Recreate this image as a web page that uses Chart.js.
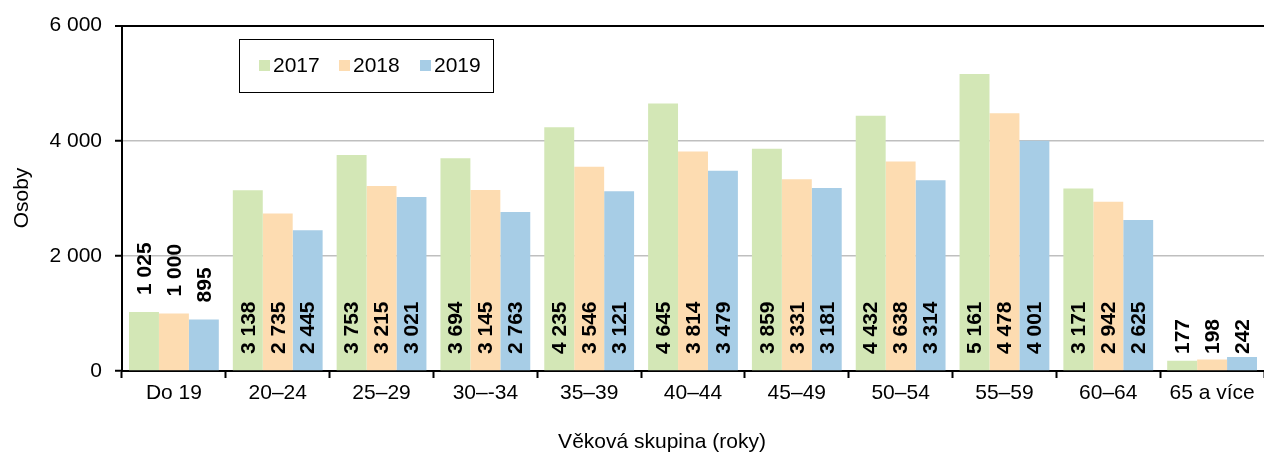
<!DOCTYPE html>
<html>
<head>
<meta charset="utf-8">
<script src="https://cdn.jsdelivr.net/npm/chart.js@4/dist/chart.umd.min.js"></script>
<style>
html,body{margin:0;padding:0;background:#fff;}
#wrap{width:1264px;height:453px;}
</style>
</head>
<body>
<div id="wrap"><canvas id="c" width="1264" height="453"></canvas></div>
<script>
const categories = ["Do 19","20–24","25–29","30–-34","35–39","40–44","45–49","50–54","55–59","60–64","65 a více"];
const seriesNames = ["2017","2018","2019"];
const values2017 = [1025,3138,3753,3694,4235,4645,3859,4432,5161,3171,177];
const values2018 = [1000,2735,3215,3145,3546,3814,3331,3638,4478,2942,198];
const values2019 = [895,2445,3021,2763,3121,3479,3181,3314,4001,2625,242];
const yTicks = [0,2000,4000,6000];
const yTitle = "Osoby";
const xTitle = "Věková skupina (roky)";
const colors = ["#d3e7b6","#fddcb1","#a7cde6"];

const FONT = "'Liberation Sans', Arial, Helvetica, sans-serif";
const fmt = v => String(v).replace(/\B(?=(\d{3})+(?!\d))/g, "\u00a0");

const labelPlugin = {
  id: 'labels',
  afterDatasetsDraw(chart) {
    const ctx = chart.ctx;
    const yScale = chart.scales.y;
    const base = yScale.getPixelForValue(0);
    ctx.save();
    ctx.font = "bold 21px " + FONT;
    ctx.fillStyle = "#000";
    ctx.textAlign = "left";
    ctx.textBaseline = "middle";
    chart.data.datasets.forEach((ds, di) => {
      const meta = chart.getDatasetMeta(di);
      meta.data.forEach((bar, i) => {
        const v = ds.data[i];
        let start;
        if (v >= 1500 || v < 500) start = base - 17;
        else start = bar.y - 17;
        ctx.save();
        ctx.translate(bar.x + 1, start);
        ctx.rotate(-Math.PI / 2);
        ctx.fillText(fmt(v), 0, 0);
        ctx.restore();
      });
    });
    ctx.restore();
  },
  afterDraw(chart) {
    const ctx = chart.ctx;
    ctx.save();
    // legend
    ctx.strokeStyle = "#000";
    ctx.lineWidth = 1;
    ctx.strokeRect(239.5, 39.5, 254, 53);
    ctx.font = "21px " + FONT;
    ctx.textBaseline = "middle";
    ctx.textAlign = "left";
    const xs = [259, 339, 420];
    chart.data.datasets.forEach((ds, i) => {
      ctx.fillStyle = ds.backgroundColor;
      ctx.fillRect(xs[i], 60, 11, 11);
      ctx.fillStyle = "#000";
      ctx.fillText(ds.label, xs[i] + 14, 66);
    });
    // axis titles
    ctx.font = "21px " + FONT;
    ctx.textAlign = "center";
    ctx.fillText(xTitle, 662, 442);
    ctx.save();
    ctx.translate(22, 198);
    ctx.rotate(-Math.PI / 2);
    ctx.fillText(yTitle, 0, 0);
    ctx.restore();
    ctx.restore();
  }
};

new Chart(document.getElementById('c'), {
  type: 'bar',
  data: {
    labels: categories,
    datasets: [values2017, values2018, values2019].map((d, i) => ({
      label: seriesNames[i],
      data: d,
      backgroundColor: colors[i],
      borderWidth: 0,
      barPercentage: 1,
      categoryPercentage: 0.865
    }))
  },
  options: {
    responsive: false,
    animation: false,
    devicePixelRatio: 1,
    layout: { padding: { top: 25, left: 0, right: 0, bottom: 0 } },
    plugins: { legend: { display: false }, tooltip: { enabled: false } },
    scales: {
      x: {
        afterFit(s) { s.height = 82; },
        grid: { offset: true, drawOnChartArea: false, tickLength: 7, tickColor: '#000', tickWidth: 2 },
        border: { color: '#000', width: 2 },
        ticks: { color: '#000', font: { family: FONT, size: 21 }, padding: 3, maxRotation: 0, autoSkip: false }
      },
      y: {
        min: 0, max: 6000,
        afterFit(s) { s.width = 122; },
        afterBuildTicks(s) { s.ticks = yTicks.map(v => ({ value: v })); },
        grid: {
          color: c => c.tick && c.tick.value === 6000 ? '#000' : '#bfbfbf',
          lineWidth: c => c.tick && c.tick.value === 6000 ? 2 : 1.5,
          tickLength: 7, tickColor: '#000', tickWidth: 2
        },
        border: { color: '#000', width: 2 },
        ticks: { color: '#000', font: { family: FONT, size: 21 }, padding: 13, callback: v => fmt(v) }
      }
    }
  },
  plugins: [labelPlugin]
});
</script>
</body>
</html>
